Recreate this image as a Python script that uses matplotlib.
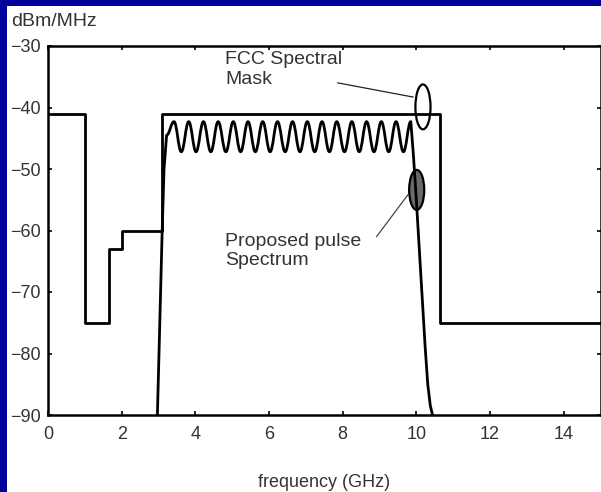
import numpy as np
import matplotlib
matplotlib.use("Agg")
import matplotlib.pyplot as plt
from matplotlib.patches import Rectangle, Ellipse, PathPatch
from matplotlib.path import Path

plt.rcParams['font.family'] = ['Liberation Sans', 'DejaVu Sans']

# FCC spectral mask (step edges in GHz, level in dBm/MHz)
mask_f = [0, 1.0, 1.65, 2.0, 3.1, 10.65, 15]
mask_db = [-41, -75, -63, -60, -41, -75, -75]

# proposed pulse spectrum: rising edge, ripple extrema, falling edge
rise_f = [2.97, 3.10, 3.15, 3.22]
rise_db = [-90, -60, -50, -44.5]
ripple_f = [3.42, 3.62, 3.82, 4.02, 4.22, 4.42, 4.62, 4.83, 5.03, 5.23, 5.43,
            5.63, 5.83, 6.03, 6.23, 6.44, 6.64, 6.84, 7.04, 7.24, 7.44, 7.64,
            7.84, 8.05, 8.25, 8.45, 8.65, 8.85, 9.05, 9.25, 9.45, 9.65, 9.85]
ripple_db = [-42.3, -47.2] * 16 + [-42.3]
fall_f = [9.92, 10.00, 10.08, 10.16, 10.24, 10.31, 10.38, 10.46]
fall_db = [-47.7, -55.0, -63.0, -71.0, -79.0, -85.0, -88.5, -90.5]

xticks = [0, 2, 4, 6, 8, 10, 12, 14]
yticks = [-90, -80, -70, -60, -50, -40, -30]

fig = plt.figure(figsize=(6.01, 4.92), dpi=100, facecolor='#00009a')
fig.patches.append(Rectangle((7 / 601, 0), 1, 1 - 6 / 492, transform=fig.transFigure,
                             facecolor='white', edgecolor='none', zorder=-10))
ax = fig.add_axes([48 / 601, 1 - 415 / 492, (600.5 - 48) / 601, (415 - 46) / 492])

ax.step(mask_f, mask_db, where='post', color='black', lw=2.0, zorder=3)

# pulse curve: straight rise, smooth ripple (bezier between extrema), straight fall
verts = list(zip(rise_f, rise_db))
codes = [Path.MOVETO] + [Path.LINETO] * (len(rise_f) - 1)
prev = verts[-1]
for p in zip(ripple_f, ripple_db):
    dx = p[0] - prev[0]
    verts += [(prev[0] + 0.4 * dx, prev[1]), (p[0] - 0.4 * dx, p[1]), p]
    codes += [Path.CURVE4] * 3
    prev = p
verts += list(zip(fall_f, fall_db))
codes += [Path.LINETO] * len(fall_f)
ax.add_patch(PathPatch(Path(verts, codes), facecolor='none', edgecolor='black',
                       lw=2.0, zorder=4, joinstyle='round'))

# annotation ellipses and leader lines
ax.add_patch(Ellipse((10.18, -39.9), 0.41, 7.3, facecolor='none', edgecolor='black',
                     lw=1.6, zorder=5))
ax.add_patch(Ellipse((10.01, -53.4), 0.41, 6.5, facecolor='#6a6a6a', edgecolor='black',
                     lw=1.6, zorder=3.5))
ax.plot([7.87, 9.91], [-36.0, -38.3], color='#222222', lw=0.9, zorder=5)
ax.plot([8.92, 9.77], [-61.0, -54.2], color='#444444', lw=0.9, zorder=5)

ax.text(4.81, -30.8, 'FCC Spectral\nMask', ha='left', va='top', fontsize=14,
        color='#333333', linespacing=1.2)
ax.text(4.81, -60.4, 'Proposed pulse\nSpectrum', ha='left', va='top', fontsize=14,
        color='#333333', linespacing=1.15)

ax.set_xlim(0, 15)
ax.set_ylim(-90, -30)
ax.set_xticks(xticks)
ax.set_yticks(yticks)
ax.tick_params(direction='in', top=True, right=True, length=3, width=1.2,
               labelsize=13, labelcolor='#333333', pad=5)
ax.tick_params(axis='x', pad=8)
for s in ax.spines.values():
    s.set_linewidth(1.8)
ax.set_xlabel('frequency (GHz)', fontsize=13, color='#333333', labelpad=22)
fig.text(11 / 601, 1 - 26 / 492, 'dBm/MHz', ha='left', va='baseline', fontsize=14,
         color='#333333')

fig.savefig('out.png', dpi=100, facecolor=fig.get_facecolor())
